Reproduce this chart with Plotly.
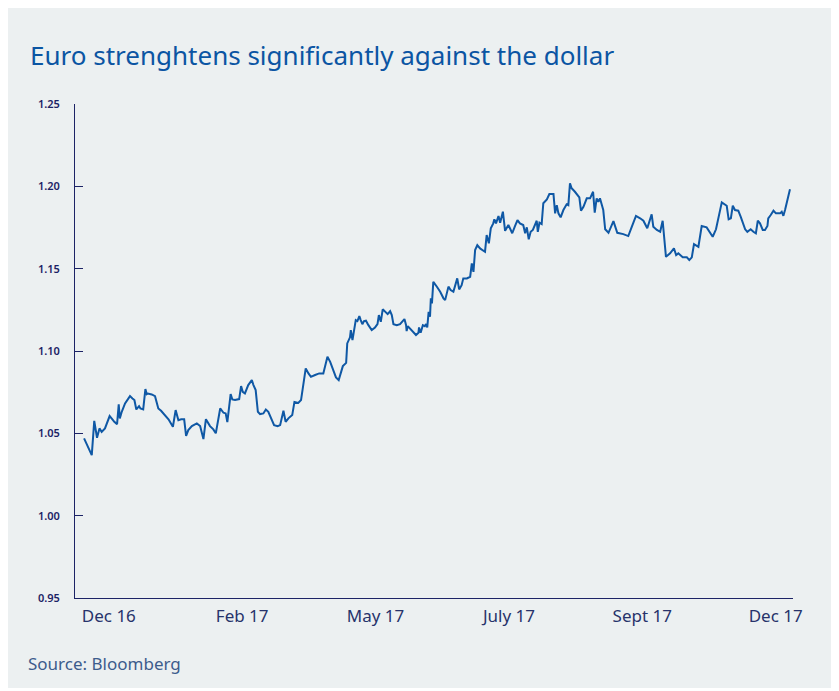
import plotly.graph_objects as go

# Trading-day index (Dec 2016 -> Dec 2017) and EUR/USD close
day = [0.0, 2.8, 3.7, 4.7, 5.6, 6.4, 7.6, 9.3, 10.3, 11.0, 12.0, 12.6, 13.0, 13.7, 14.9, 16.7, 17.6, 18.3, 19.0, 20.0,
       20.5, 21.5, 22.3, 22.8, 23.2, 24.6, 25.8, 27.0, 28.0, 29.2, 30.7, 32.3, 33.3, 34.3, 35.3, 36.4, 37.1, 37.9, 39.2, 41.0,
       42.2, 43.4, 44.3, 45.8, 47.0, 47.9, 49.5, 50.7, 51.5, 52.1, 53.3, 53.9, 54.9, 56.4, 57.1, 57.7, 58.5, 59.7, 61.0, 61.6,
       62.4, 63.2, 64.0, 65.2, 66.1, 67.0, 68.0, 69.1, 70.4, 71.3, 72.5, 73.3, 74.3, 75.7, 76.5, 77.9, 78.9, 79.7, 80.6, 81.6,
       82.5, 84.0, 85.5, 87.0, 88.5, 89.5, 90.1, 90.9, 91.6, 92.6, 93.3, 94.1, 95.3, 95.7, 96.7, 97.0, 97.6, 97.9, 98.8, 99.4,
       100.1, 100.6, 101.2, 101.8, 102.5, 103.4, 104.6, 105.8, 106.7, 107.2, 107.9, 108.6, 109.6, 110.4, 111.3, 111.9, 112.5, 113.7, 114.9, 115.9,
       116.5, 117.1, 117.3, 117.7, 118.5, 119.7, 120.7, 121.6, 121.8, 122.4, 123.2, 123.9, 124.4, 124.8, 125.3, 125.8, 126.1, 126.5, 127.0, 128.3,
       129.5, 130.7, 131.3, 132.5, 133.3, 134.3, 135.3, 135.7, 136.4, 137.3, 137.9, 139.2, 140.4, 141.0, 141.6, 142.2, 143.0, 144.0, 145.2, 145.8,
       146.4, 147.2, 147.9, 148.8, 149.2, 149.8, 150.7, 151.3, 152.3, 153.1, 154.3, 154.9, 155.7, 156.7, 157.6, 158.5, 159.7, 160.4, 161.0, 161.7,
       162.4, 163.2, 164.0, 164.6, 165.0, 165.6, 166.4, 167.0, 168.3, 169.2, 170.7, 171.3, 171.9, 172.5, 173.3, 174.3, 175.5, 176.1, 176.7, 177.3,
       178.5, 180.1, 180.7, 181.6, 182.8, 184.0, 185.1, 185.7, 186.4, 187.0, 187.6, 188.3, 188.8, 189.5, 190.7, 192.5, 193.9, 196.1, 197.9, 199.2,
       200.7, 202.2, 203.4, 204.8, 206.4, 207.0, 208.3, 209.5, 210.4, 211.6, 213.1, 214.5, 215.3, 216.1, 217.0, 217.7, 219.2, 220.1, 221.0, 221.8,
       223.4, 224.6, 226.4, 227.6, 228.6, 229.8, 231.9, 233.7, 234.4, 235.2, 235.9, 236.7, 237.9, 238.8, 239.5, 240.4, 241.2, 242.4, 243.4, 244.3,
       245.0, 245.8, 246.8, 247.6, 248.5, 248.8, 249.7, 250.7, 251.6, 253.1, 253.7, 254.3, 254.9, 256.7]

eurusd = [1.0469, 1.0368, 1.0576, 1.0473, 1.0530, 1.0509, 1.0530, 1.0605, 1.0585, 1.0570, 1.0556, 1.0676, 1.0591, 1.0631, 1.0682, 1.0726, 1.0712, 1.0702, 1.0645, 1.0665,
          1.0651, 1.0645, 1.0769, 1.0738, 1.0742, 1.0736, 1.0726, 1.0651, 1.0637, 1.0611, 1.0585, 1.0540, 1.0641, 1.0580, 1.0585, 1.0585, 1.0485, 1.0520, 1.0544, 1.0560,
          1.0544, 1.0465, 1.0586, 1.0544, 1.0524, 1.0500, 1.0651, 1.0625, 1.0621, 1.0568, 1.0738, 1.0706, 1.0702, 1.0708, 1.0787, 1.0752, 1.0742, 1.0793, 1.0823, 1.0793,
          1.0763, 1.0631, 1.0617, 1.0621, 1.0645, 1.0631, 1.0597, 1.0550, 1.0544, 1.0550, 1.0637, 1.0570, 1.0591, 1.0611, 1.0691, 1.0685, 1.0702, 1.0783, 1.0894, 1.0864,
          1.0843, 1.0854, 1.0864, 1.0863, 1.0965, 1.0934, 1.0904, 1.0878, 1.0840, 1.0823, 1.0864, 1.0908, 1.0928, 1.1046, 1.1083, 1.1127, 1.1066, 1.1097, 1.1188, 1.1182,
          1.1212, 1.1188, 1.1163, 1.1182, 1.1184, 1.1157, 1.1127, 1.1143, 1.1163, 1.1218, 1.1177, 1.1253, 1.1238, 1.1224, 1.1242, 1.1218, 1.1163, 1.1157, 1.1163, 1.1182,
          1.1194, 1.1157, 1.1121, 1.1151, 1.1137, 1.1117, 1.1097, 1.1111, 1.1143, 1.1111, 1.1157, 1.1151, 1.1163, 1.1143, 1.1238, 1.1208, 1.1320, 1.1289, 1.1420, 1.1390,
          1.1360, 1.1320, 1.1309, 1.1391, 1.1370, 1.1360, 1.1411, 1.1441, 1.1374, 1.1400, 1.1441, 1.1441, 1.1451, 1.1532, 1.1481, 1.1613, 1.1643, 1.1623, 1.1609, 1.1603,
          1.1704, 1.1654, 1.1745, 1.1775, 1.1800, 1.1775, 1.1820, 1.1779, 1.1846, 1.1730, 1.1765, 1.1745, 1.1715, 1.1759, 1.1795, 1.1775, 1.1765, 1.1715, 1.1751, 1.1678,
          1.1724, 1.1735, 1.1765, 1.1791, 1.1724, 1.1779, 1.1771, 1.1897, 1.1921, 1.1953, 1.1953, 1.1836, 1.1886, 1.1836, 1.1812, 1.1856, 1.1891, 1.1886, 1.2018, 1.1988,
          1.1967, 1.1933, 1.1852, 1.1876, 1.1927, 1.1927, 1.1967, 1.1840, 1.1927, 1.1906, 1.1927, 1.1886, 1.1856, 1.1739, 1.1718, 1.1789, 1.1718, 1.1710, 1.1698, 1.1755,
          1.1820, 1.1806, 1.1791, 1.1745, 1.1830, 1.1755, 1.1735, 1.1724, 1.1791, 1.1572, 1.1593, 1.1623, 1.1583, 1.1593, 1.1577, 1.1569, 1.1569, 1.1552, 1.1569, 1.1649,
          1.1633, 1.1759, 1.1751, 1.1718, 1.1694, 1.1739, 1.1903, 1.1882, 1.1800, 1.1806, 1.1882, 1.1856, 1.1852, 1.1815, 1.1775, 1.1739, 1.1724, 1.1739, 1.1724, 1.1715,
          1.1791, 1.1775, 1.1735, 1.1735, 1.1759, 1.1806, 1.1826, 1.1852, 1.1836, 1.1836, 1.1846, 1.1821, 1.1856, 1.1982]

x_tick_pos = [9, 57.5, 106, 154.5, 203, 251.5]
x_tick_labels = ["Dec 16", "Feb 17", "May 17", "July 17", "Sept 17", "Dec 17"]
y_ticks = [0.95, 1.00, 1.05, 1.10, 1.15, 1.20, 1.25]

TITLE = "Euro strenghtens significantly against the dollar"
SOURCE = "Source: Bloomberg"

BG = "#ECF0F1"
NAVY = "#1C2366"
LINE = "#0F58A5"
FONT = "Noto Sans"

# page body has an 8px margin; size the figure to fill the rest of the window
W, H = 831, 683

fig = go.Figure()
fig.add_trace(go.Scatter(x=day, y=eurusd, mode="lines",
                         line=dict(color=LINE, width=2), showlegend=False,
                         hoverinfo="x+y"))

fig.update_layout(
    width=W, height=H,
    margin=dict(l=67, r=46, t=96, b=93),
    paper_bgcolor=BG,
    plot_bgcolor=BG,
    font=dict(family=FONT, color=NAVY),
    title=dict(text=TITLE, xref="container", yref="container",
               x=22/W, y=1-48/H, xanchor="left", yanchor="middle",
               font=dict(family=FONT, size=26, color="#0B55A3")),
    shapes=[dict(type="rect", xref="paper", yref="paper", layer="above",
                 x0=-0.2, x1=1.2, y0=-0.1900, y1=-0.1822,
                 fillcolor="white", line=dict(width=0))],
    annotations=[dict(text=SOURCE, xref="paper", yref="paper",
                      x=-0.0682, y=-0.1336, xanchor="left", yanchor="middle",
                      showarrow=False, font=dict(family=FONT, size=17, color="#3D5C8C"))],
)

fig.update_xaxes(range=[-3.3, 257.8], showgrid=False, zeroline=False,
                 showline=True, linecolor=NAVY, linewidth=1,
                 tickmode="array", tickvals=x_tick_pos, ticktext=x_tick_labels,
                 ticks="outside", ticklen=3, tickcolor="rgba(0,0,0,0)",
                 tickfont=dict(family=FONT, size=17, color="#27336B"))

fig.update_yaxes(range=[0.95, 1.25], showgrid=False, zeroline=False,
                 showline=True, linecolor=NAVY, linewidth=1,
                 tickmode="array", tickvals=y_ticks,
                 ticktext=[f"{v:.2f}" for v in y_ticks],
                 ticks="inside", ticklen=8, tickcolor=NAVY, tickwidth=1,
                 ticklabelstandoff=12,
                 tickfont=dict(family=FONT, size=11, color=NAVY, weight=600))

fig.write_html("out.html")
